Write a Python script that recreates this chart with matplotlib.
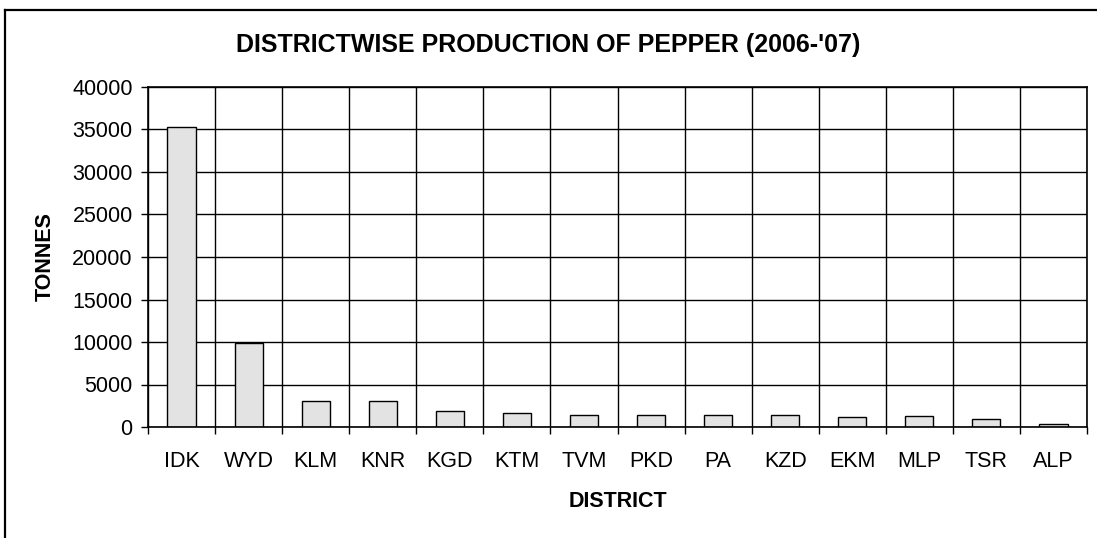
import matplotlib
matplotlib.use("Agg")
import matplotlib.pyplot as plt
from matplotlib.lines import Line2D
import numpy as np

districts = ["IDK", "WYD", "KLM", "KNR", "KGD", "KTM", "TVM", "PKD", "PA", "KZD", "EKM", "MLP", "TSR", "ALP"]
tonnes = [35300, 9900, 3060, 3060, 1880, 1690, 1460, 1460, 1460, 1460, 1220, 1250, 990, 300]
yticks = [0, 5000, 10000, 15000, 20000, 25000, 30000, 35000, 40000]

plt.rcParams['font.family'] = ['Liberation Sans', 'DejaVu Sans']

W, H = 1097, 538
fig = plt.figure(figsize=(W / 100, H / 100), dpi=100)
ax = fig.add_axes([148 / W, (H - 427) / H, (1087 - 148) / W, (427 - 87) / H])

x = np.arange(len(districts))
ax.bar(x, tonnes, width=0.42, color="#E3E3E3", edgecolor="black", linewidth=1.0, zorder=3)

fs = 15.5
ax.set_xlim(-0.5, len(districts) - 0.5)
ax.set_ylim(0, 40000)
ax.set_yticks(yticks)
ax.set_yticklabels([str(v) for v in yticks], fontsize=fs)
ax.set_xticks(x)
ax.set_xticklabels(districts, fontsize=fs)
ax.set_xticks(np.arange(-0.5, len(districts), 1), minor=True)
ax.tick_params(axis="x", which="major", length=0, pad=17)
ax.tick_params(axis="x", which="minor", length=5, width=1.0, direction="out")
ax.tick_params(axis="y", which="major", length=5, width=1.0, direction="out", pad=6)

ax.grid(True, axis="y", which="major", color="black", linewidth=1.0, zorder=1)
ax.grid(True, axis="x", which="minor", color="black", linewidth=1.0, zorder=1)
for s in ax.spines.values():
    s.set_linewidth(1.2)
    s.set_color("black")
    s.set_zorder(4)

ax.set_xlabel("DISTRICT", fontsize=fs, fontweight="bold", labelpad=14)
ax.set_ylabel("TONNES", fontsize=fs, fontweight="bold", labelpad=12)
fig.text(548 / W, 1 - 45 / H, "DISTRICTWISE PRODUCTION OF PEPPER (2006-'07)",
         fontsize=18, fontweight="bold", ha="center", va="center")

# outer chart border (left and top visible)
fig.add_artist(Line2D([5 / W, 5 / W], [0, 1 - 10 / H], transform=fig.transFigure, color="black", linewidth=1.6))
fig.add_artist(Line2D([5 / W, 1], [1 - 10 / H, 1 - 10 / H], transform=fig.transFigure, color="black", linewidth=1.6))

fig.savefig("out.png", dpi=100, facecolor="white")
